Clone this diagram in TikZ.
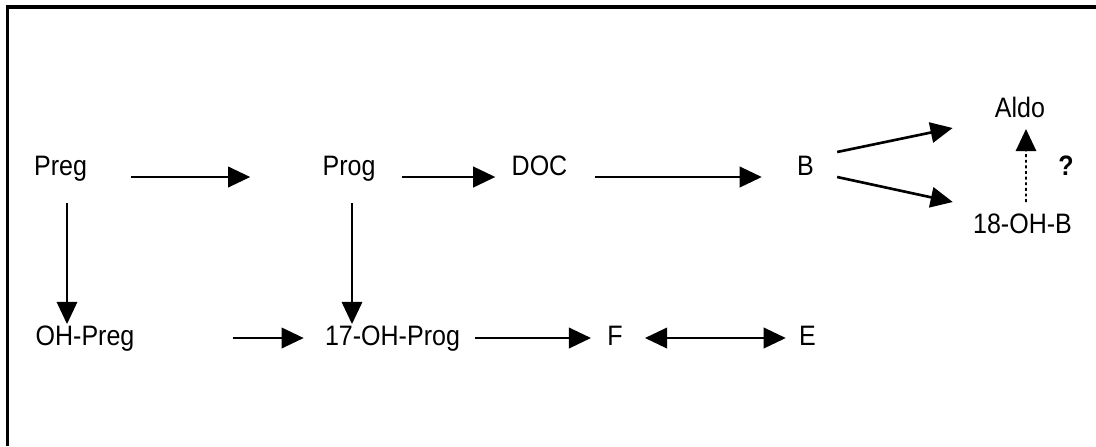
\documentclass[tikz,border=0pt]{standalone}
\usepackage{fontspec}
\setmainfont{Liberation Sans}[FakeStretch=0.89]
\usetikzlibrary{arrows.meta}
\tikzset{>={Triangle[length=6.3pt,width=5.8pt]}}
\tikzset{met/.style={inner sep=0pt,anchor=base,font=\fontsize{8}{9.6}\selectfont}}

\begin{document}
\begin{tikzpicture}[line width=0.75pt]
  \useasboundingbox (0,0) rectangle (10.96,4.46);
  \draw[line width=1.1pt] (0.075,0) -- (0.075,4.39) -- (10.96,4.39);
  % upper row
  \node[met] (Preg) at (0.605,2.71) {Preg};
  \node[met] (Prog) at (3.49,2.71) {Prog};
  \node[met] (DOC) at (5.395,2.71) {DOC};
  \node[met] (B) at (8.055,2.71) {B};
  \node[met] (Aldo) at (10.20,3.29) {Aldo};
  \node[met] (OHB) at (10.225,2.13) {18-OH-B};
  \node[met,font=\fontsize{8}{9.6}\selectfont\bfseries] (q) at (10.66,2.71) {?};
  % lower row
  \node[met] (OHPreg) at (0.85,1.01) {OH-Preg};
  \node[met] (OHProg) at (3.925,1.01) {17-OH-Prog};
  \node[met] (F) at (6.15,1.01) {F};
  \node[met] (E) at (8.075,1.01) {E};
  %
  \draw[->,shorten <=0.43cm,shorten >=0.71cm] ([yshift=-0.02cm]Preg.base east) -- ([yshift=-0.02cm]Prog.base west);
  \draw[->,shorten <=0.25cm,shorten >=0.15cm] ([yshift=-0.02cm]Prog.base east) -- ([yshift=-0.02cm]DOC.base west);
  \draw[->,shorten <=0.26cm,shorten >=0.34cm] ([yshift=-0.02cm]DOC.base east) -- ([yshift=-0.02cm]B.base west);
  \draw[->] ([shift={(0.22,0.23)}]B.base east) -- ([shift={(-0.41,-0.11)}]Aldo.base west);
  \draw[->] ([shift={(0.22,-0.02)}]B.base east) -- ([shift={(-0.19,0.31)}]OHB.base west);
  \draw[->,line width=0.55pt,dash pattern=on 0.8pt off 0.8pt] ([xshift=0.035cm,yshift=0.31cm]OHB.base) -- ([xshift=0.06cm,yshift=-0.12cm]Aldo.base);
  %
  \draw[->,line width=0.6pt,shorten <=0.21cm] ([xshift=0.065cm]Preg.south) -- ([xshift=0.065cm]Preg.south |- OHPreg.north);
  \draw[->,line width=0.6pt,shorten <=0.21cm] ([xshift=0.03cm]Prog.south) -- ([xshift=0.03cm]Prog.south |- OHProg.north);
  %
  \draw[->,shorten <=0.97cm,shorten >=0.20cm] ([yshift=0.07cm]OHPreg.base east) -- ([yshift=0.07cm]OHProg.base west);
  \draw[->,shorten <=0.14cm,shorten >=0.15cm] ([yshift=0.07cm]OHProg.base east) -- ([yshift=0.07cm]F.base west);
  \draw[<->,shorten <=0.21cm,shorten >=0.12cm] ([yshift=0.07cm]F.base east) -- ([yshift=0.07cm]E.base west);
\end{tikzpicture}
\end{document}
